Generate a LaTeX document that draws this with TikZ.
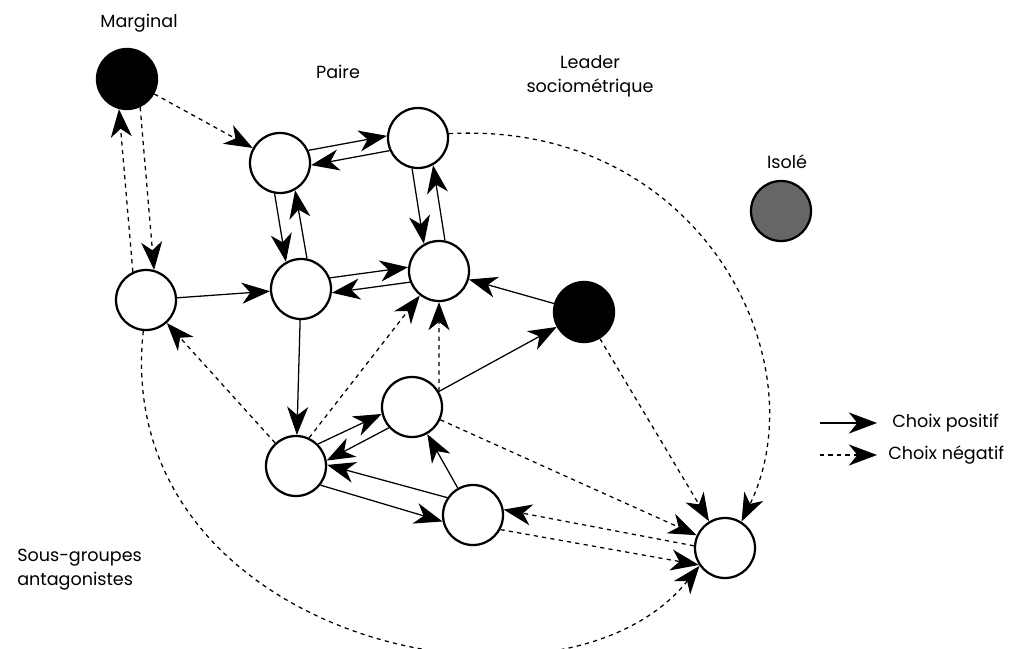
\documentclass[tikz,border=0pt]{standalone}
\usepackage{fontspec}
\setmainfont{Poppins}
\usetikzlibrary{arrows.meta}
\begin{document}
\begin{tikzpicture}[x=0.025cm,y=-0.025cm,
  pers/.style={circle,draw=black,line width=1.6pt,minimum size=1.5cm,inner sep=0pt,fill=white},
  blackp/.style={pers,fill=black},
  isol/.style={pers,fill=black!60},
  posarrow/.style={line width=0.9pt,-{Stealth[length=20pt,width=15pt,inset=6pt]}},
  negarrow/.style={posarrow,dash pattern=on 3pt off 3pt},
  lab/.style={font=\fontsize{12.5}{17}\selectfont,inner sep=0pt}]
\useasboundingbox (0,0) rectangle (1017,649);
% persons
\node[blackp] (M) at (127,79) {};
\node[pers] (A) at (280,163) {};
\node[pers] (B) at (418,138) {};
\node[pers] (C) at (301,289) {};
\node[pers] (D) at (439,271) {};
\node[blackp] (E) at (584,312) {};
\node[pers] (F) at (146,300) {};
\node[pers] (G) at (412,407) {};
\node[pers] (H) at (296,466) {};
\node[pers] (I) at (473,515) {};
\node[pers] (J) at (725,548) {};
\node[isol] (S) at (781,211) {};
% labels
\node[lab] (lmarg) at (139,23) {Marginal};
\node[lab] (lpaire) at (338,72) {Paire};
\node[lab,align=center] (llead) at (590,76) {Leader\\sociométrique};
\node[lab] (lisol) at (787,162) {Isolé};
\node[lab,align=left,anchor=west] (lsous) at (17,570) {Sous-groupes\\antagonistes};
% connectors
\draw[negarrow] (M) -- (A);
\draw[negarrow] (M.-65) -- (F.75);
\draw[negarrow] (F.115) -- (M.-105);
\draw[posarrow] (A.24) -- (B.176);
\draw[posarrow] (B.204) -- (A.-4);
\draw[posarrow] (A.-100) -- (C.119);
\draw[posarrow] (C.79) -- (A.-61);
\draw[posarrow] (B.-101) -- (D.119);
\draw[posarrow] (D.79) -- (B.-61);
\draw[posarrow] (C.21) -- (D.173);
\draw[posarrow] (D.201) -- (C.-7);
\draw[posarrow] (F) -- (C);
\draw[posarrow] (E) -- (D);
\draw[posarrow] (G.30) -- (E);
\draw[negarrow] (G.30) -- (D.south);
\draw[negarrow] (H.65) -- (D.232);
\draw[posarrow] (C) -- (H);
\draw[negarrow] (H) -- (F);
\draw[posarrow] (H.45) -- (G.193);
\draw[posarrow] (G.222) -- (H.10);
\draw[posarrow] (I.146) -- (H.2);
\draw[posarrow] (H.-38) -- (I.192);
\draw[posarrow] (I) -- (G);
\draw[negarrow] (G) -- (J);
\draw[negarrow] (J.176) -- (I.10);
\draw[negarrow] (I.-28) -- (J.213);
\draw[negarrow] (E) -- (J);
\draw[negarrow] (B.8) .. controls (700,120) and (820,360) .. (J.58);
\draw[negarrow] (F.-95) .. controls (110,640) and (560,740) .. (J.215);
% legend
\coordinate (p1) at (820,423); \coordinate (p2) at (877,423);
\coordinate (n1) at (820,455); \coordinate (n2) at (877,455);
\draw[posarrow] (p1) -- (p2);
\draw[negarrow] (n1) -- (n2);
\node[lab,anchor=west] (lpos) at (892,423) {Choix positif};
\node[lab,anchor=west] (lneg) at (888,455) {Choix négatif};
\end{tikzpicture}
\end{document}
